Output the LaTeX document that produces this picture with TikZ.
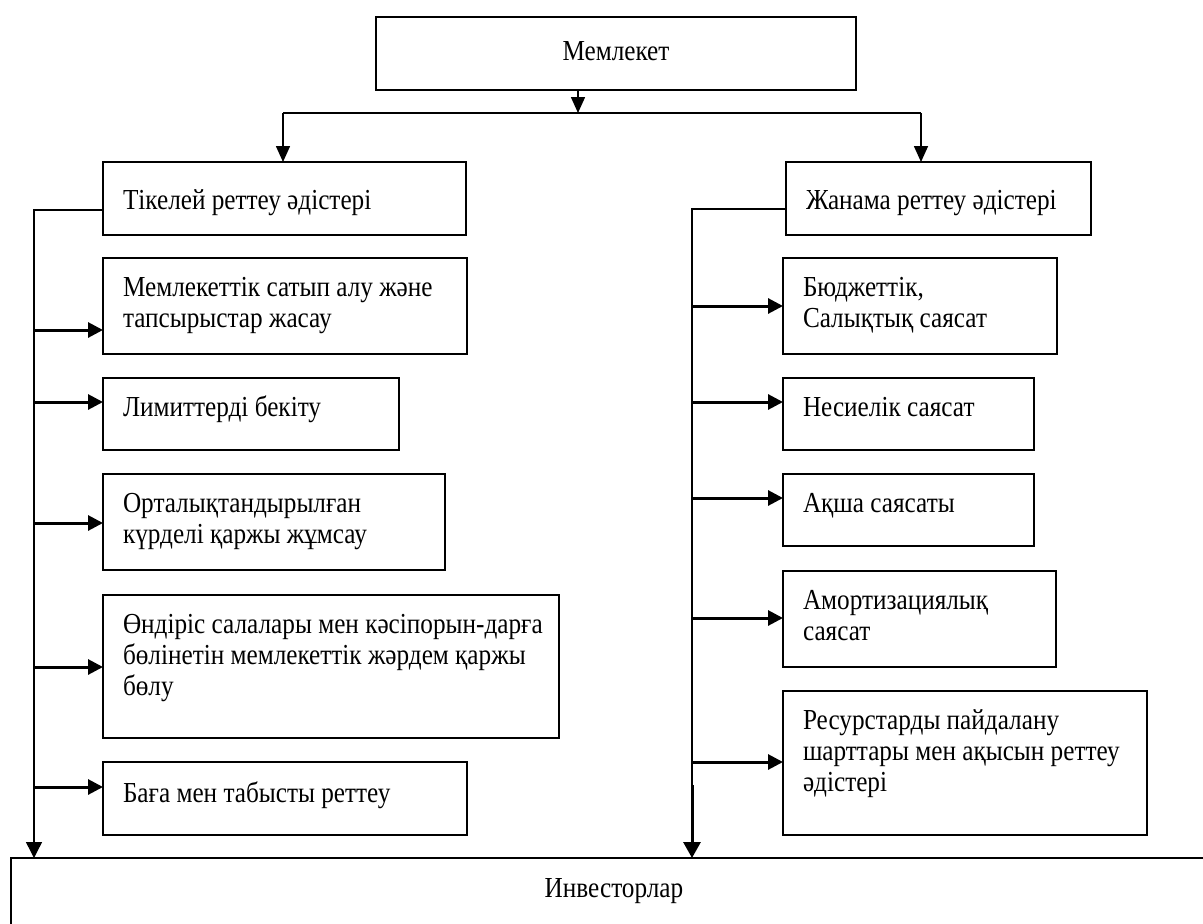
\documentclass[tikz,border=0pt]{standalone}
\usepackage{fontspec}
\setmainfont{Liberation Serif}[FakeStretch=0.87]
\usetikzlibrary{arrows.meta}
\newcommand\bxl[4]{\parbox[c][#2pt][t]{#1pt}{\parindent=0pt\leftskip=20pt\rightskip=-200pt plus 1fil\parfillskip=0pt plus 1fil\vspace*{#3pt}\rule{0pt}{20pt}#4\par}}
\newcommand\bxc[4]{\parbox[c][#2pt][t]{#1pt}{\centering\vspace*{#3pt}\rule{0pt}{20pt}#4\par}}
\begin{document}
\begin{tikzpicture}[x=1pt,y=-1pt,
  box/.style={draw, line width=1.8pt, inner sep=0pt, outer sep=0pt, anchor=north west,
              font=\fontsize{29}{31}\selectfont},
  thinline/.style={line width=1.4pt},
  toparrow/.style={line width=1.6pt, -{Triangle[length=16pt,width=14pt]}},
  harrow/.style={line width=3pt, -{Triangle[length=15pt,width=15pt]}},
  varrow/.style={line width=1.4pt, -{Triangle[length=16pt,width=16pt]}},
  vthick/.style={line width=3pt, -{Triangle[length=16pt,width=17pt]}},
]
\useasboundingbox (0,0) rectangle (1203,924);
\clip (0,0) rectangle (1203,924);

% top
\node[box] (m) at (376,17) {\bxc{480}{73}{23}{Мемлекет}};
\node[box] (t) at (103,162) {\bxl{363}{73}{27}{Тікелей реттеу әдістері}};
\node[box] (j) at (786,162) {\bxl{305}{73}{27}{Жанама реттеу әдістері}};

% left column
\node[box] (b1) at (103,258) {\bxl{364}{96}{18}{Мемлекеттік сатып алу және\\тапсырыстар жасау}};
\node[box] (b2) at (103,378) {\bxl{296}{72}{18}{Лимиттерді бекіту}};
\node[box] (b3) at (103,474) {\bxl{342}{96}{18}{Орталықтандырылған\\күрделі қаржы жұмсау}};
\node[box] (b4) at (103,595) {\bxl{456}{143}{18}{Өндіріс салалары мен кәсіпорын-дарға\\бөлінетін мемлекеттік жәрдем қаржы\\бөлу}};
\node[box] (b5) at (103,762) {\bxl{364}{73}{20}{Баға мен табысты реттеу}};

% right column
\node[box] (r1) at (783,258) {\bxl{274}{96}{18}{Бюджеттік,\\Салықтық саясат}};
\node[box] (r2) at (783,378) {\bxl{251}{72}{18}{Несиелік саясат}};
\node[box] (r3) at (783,474) {\bxl{251}{72}{18}{Ақша саясаты}};
\node[box] (r4) at (783,571) {\bxl{273}{96}{18}{Амортизациялық\\саясат}};
\node[box] (r5) at (783,691) {\bxl{364}{144}{18}{Ресурстарды пайдалану\\шарттары мен ақысын реттеу\\әдістері}};

% bottom
\node[box] (inv) at (11,858) {\bxc{1206}{100}{19}{Инвесторлар}};

% connectors from the top box
\coordinate (hub) at (578,113);
\coordinate (tl) at (283,113);
\coordinate (tr) at (921,113);
\draw[toparrow] (m.south -| hub) -- (hub);
\draw[thinline] (tl) -- (tr);
\draw[toparrow] (tl) -- (tl |- t.north);
\draw[toparrow] (tr) -- (tr |- j.north);

% left bus
\coordinate (lx) at (34,210);
\draw[varrow] (t.west |- lx) -- (lx) -- (lx |- inv.north);
\foreach \n/\o in {b1/72,b2/24,b3/49,b4/72,b5/25}{
  \path ([yshift=-\o pt]\n.north west) coordinate (a\n);
  \draw[harrow] (lx |- a\n) -- (a\n);
}

% right bus
\coordinate (rx) at (692,209);
\coordinate (rbreak) at (692,785);
\draw[thinline] (j.west |- rx) -- (rx) -- (rbreak);
\draw[vthick] (rbreak) -- (rx |- inv.north);
\foreach \n/\o in {r1/48,r2/24,r3/24,r4/47,r5/71}{
  \path ([yshift=-\o pt]\n.north west) coordinate (a\n);
  \draw[harrow] (rx |- a\n) -- (a\n);
}
\end{tikzpicture}
\end{document}
